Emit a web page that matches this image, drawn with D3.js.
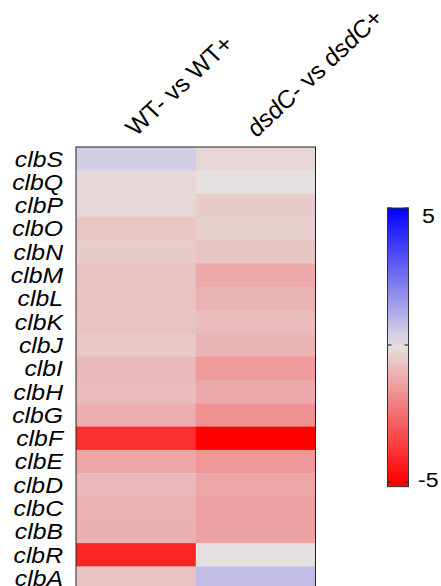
<!DOCTYPE html>
<html><head><meta charset="utf-8">
<script src="https://cdn.jsdelivr.net/npm/d3@7"></script>
<style>body{margin:0;background:#fff}svg{display:block}text{font-family:"Liberation Sans",Arial,sans-serif;fill:#000}</style>
</head><body>
<script>
const genes = ["clbS","clbQ","clbP","clbO","clbN","clbM","clbL","clbK","clbJ","clbI","clbH","clbG","clbF","clbE","clbD","clbC","clbB","clbR","clbA"];
const columns = ["WT","dsdC"];
const wtValues   = [0.45,-0.2,-0.2,-0.6,-0.5,-0.65,-0.7,-0.7,-0.55,-0.9,-0.85,-1.15,-3.95,-1.35,-0.9,-1.05,-1.1,-4.2,-0.65];
const dsdCValues = [-0.25,-0.05,-0.47,-0.4,-0.65,-1.25,-1.0,-0.85,-1.0,-1.55,-1.25,-1.75,-5.1,-1.65,-1.3,-1.4,-1.4,-0.05,0.8];
const colorTicks = [5,0,-5];
const colorTickLabels = ["5","","-5"];

const W = 441, H = 586;
const svg = d3.select("body").append("svg").attr("width",W).attr("height",H);

const rowH = 23.3;
const x = d3.scaleBand().domain(columns).range([76,315.5]);
const y = d3.scaleBand().domain(genes).range([147,147+genes.length*rowH]);
const color = d3.scaleLinear().domain([-5,0,5]).range(["#ff0000","#e6e1e1","#0000ff"]).clamp(true);

const cells = [];
genes.forEach((g,i)=>{cells.push({g,c:"WT",v:wtValues[i]});cells.push({g,c:"dsdC",v:dsdCValues[i]});});

svg.append("g").selectAll("rect").data(cells).join("rect")
  .attr("x",d=>x(d.c)).attr("y",d=>y(d.g))
  .attr("width",x.bandwidth()+0.5).attr("height",y.bandwidth()+0.5)
  .attr("fill",d=>color(d.v));

svg.append("rect").attr("x",76).attr("y",147).attr("width",315.5-76).attr("height",y.range()[1]-147)
  .attr("fill","none").attr("stroke","#222").attr("stroke-width",1);

// row labels
svg.append("g").selectAll("text").data(genes).join("text")
  .attr("transform",d=>`translate(63,${y(d)+y.bandwidth()/2}) scale(1.1,1)`)
  .attr("text-anchor","end").attr("dy","0.35em")
  .style("font-size","22.5px").style("font-style","italic").text(d=>d);

// column labels
const colLabels = [
  {c:"WT", parts:[["WT-",false],[" vs ",false],["WT+",false]], dx:0, dy:137},
  {c:"dsdC", parts:[["dsdC",true],["- vs ",false],["dsdC",true],["+",false]], dx:1, dy:138}
];
colLabels.forEach(l=>{
  const t = svg.append("text")
    .attr("transform",`translate(${x(l.c)+x.bandwidth()/2+l.dx},${l.dy}) scale(1.08,1) rotate(-45)`)
    .style("font-size","23.5px");
  l.parts.forEach(p=>t.append("tspan").style("font-style",p[1]?"italic":"normal").text(p[0]));
});

// colorbar
const cbY = d3.scaleLinear().domain([5,-5]).range([208,482]);
const cbMin = -5.17, cbMax = 5;
const defs = svg.append("defs");
const grad = defs.append("linearGradient").attr("id","cb").attr("x1",0).attr("y1",0).attr("x2",0).attr("y2",1);
d3.range(0,1.0001,0.05).forEach(t=>{
  const v = cbMax + (cbMin-cbMax)*t;
  grad.append("stop").attr("offset",t).attr("stop-color",color(v));
});
const cbX0 = 387.5, cbW = 21;
svg.append("rect").attr("x",cbX0).attr("y",cbY(cbMax)).attr("width",cbW).attr("height",cbY(cbMin)-cbY(cbMax))
  .attr("fill","url(#cb)").attr("stroke","#333").attr("stroke-width",1);
const tg = svg.append("g");
colorTicks.forEach((v,i)=>{
  tg.append("line").attr("x1",cbX0).attr("x2",cbX0+4).attr("y1",cbY(v)).attr("y2",cbY(v)).attr("stroke","#333").attr("stroke-width",1.2);
  tg.append("line").attr("x1",cbX0+cbW-4).attr("x2",cbX0+cbW).attr("y1",cbY(v)).attr("y2",cbY(v)).attr("stroke","#333").attr("stroke-width",1.2);
});
svg.append("text").attr("transform",`translate(422,${cbY(5)+15}) scale(1.1,1)`).style("font-size","21px").text(colorTickLabels[0]);
svg.append("text").attr("transform",`translate(418,${cbY(-5)+5}) scale(1.1,1)`).style("font-size","21px").text(colorTickLabels[2]);
</script>
</body></html>
